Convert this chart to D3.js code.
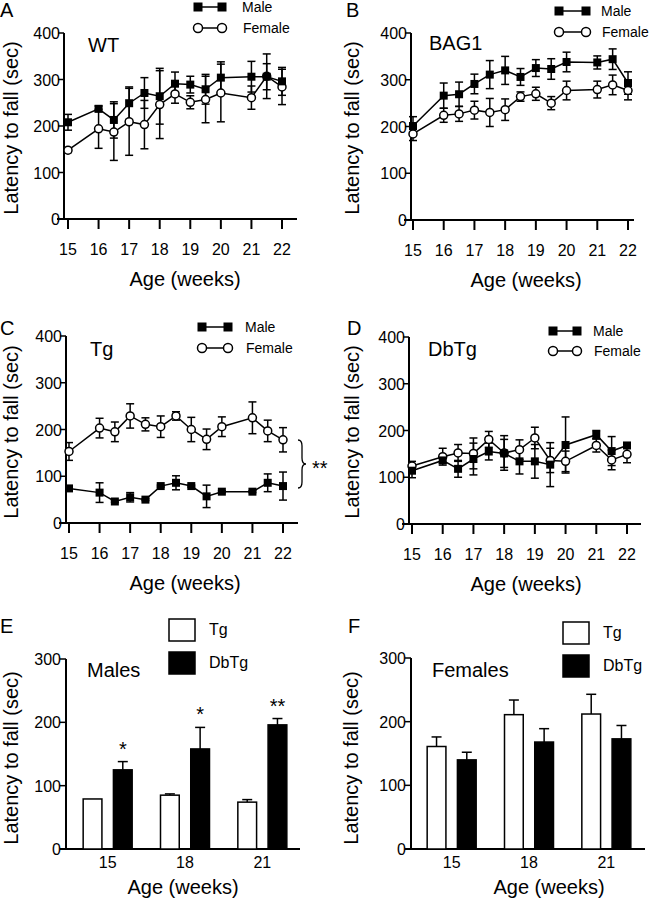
<!DOCTYPE html>
<html><head><meta charset="utf-8">
<script src="https://cdn.jsdelivr.net/npm/d3@7"></script>
<style>body{margin:0;background:#fff}svg{display:block}text{font-family:"Liberation Sans",Arial,sans-serif;fill:#000}</style>
</head><body>
<script>
// ---- data ----
const weeks = [15,16,16.5,17,17.5,18,18.5,19,19.5,20,21,21.5,22];
const weekTicks = [15,16,17,18,19,20,21,22];
const yTicksLine = [0,100,200,300,400];

const wtMale      = [208,237,213,249,271,264,291,289,279,304,306,306,296];
const wtMaleErr   = [17,6,39,35,33,60,25,18,32,34,33,28,30];
const wtFemale    = [148,194,187,209,203,246,269,251,257,271,261,307,284];
const wtFemaleErr = [5,42,61,72,52,73,20,14,50,62,25,48,38];

const bagMale      = [201,266,269,291,311,320,306,325,323,338,337,344,293];
const bagMaleErr   = [20,27,26,21,30,30,18,18,22,21,14,22,24];
const bagFemale    = [184,224,227,235,230,236,264,270,250,277,279,289,277];
const bagFemaleErr = [14,15,16,19,30,23,10,14,14,20,18,21,20];

const tgMale      = [74,65,46,55,50,79,86,79,57,67,67,86,79];
const tgMaleErr   = [2,21,2,10,2,2,15,2,24,2,2,19,30];
const tgFemale    = [153,203,195,229,211,206,229,200,179,206,225,197,178];
const tgFemaleErr = [19,21,21,26,14,23,9,26,22,21,34,23,26];

const dbMale      = [114,136,118,139,155,151,134,134,127,169,191,156,168];
const dbMaleErr   = [15,6,18,34,18,30,27,36,47,60,9,31,4];
const dbFemale    = [124,144,152,151,181,152,159,184,136,134,168,137,149];
const dbFemaleErr = [10,18,18,33,17,37,21,23,26,22,14,21,18];

const barAges = ["15","18","21"];
const barGroups = ["Tg","DbTg"];
const yTicksBar = [0,100,200,300];
const maleTg      = [79,85,74];
const maleTgErr   = [0,2,4];
const maleDb      = [125,158,196];
const maleDbErr   = [13,34,10];
const maleStars   = ["*","*","**"];
const femaleTg    = [161,211,212];
const femaleTgErr = [15,23,31];
const femaleDb    = [140,168,173];
const femaleDbErr = [12,21,21];

// ---- drawing ----
const svg = d3.select("body").append("svg").attr("width",652).attr("height",900);

function txt(g, x, y, s, size, anchor){
  return g.append("text").attr("x",x).attr("y",y).attr("font-size",size)
    .attr("text-anchor",anchor||"start").text(s);
}

function linePanel(cfg){
  const g = svg.append("g");
  const x = d3.scaleLinear().domain([15,22]).range([cfg.x15,cfg.x22]);
  const y = d3.scaleLinear().domain([0,400]).range([cfg.axY,cfg.yTop]);
  g.append("line").attr("x1",cfg.axX).attr("x2",cfg.axX).attr("y1",y(400)).attr("y2",cfg.axY)
    .attr("stroke","#000").attr("stroke-width",2);
  g.append("line").attr("x1",cfg.axX-7).attr("x2",cfg.xEnd).attr("y1",cfg.axY).attr("y2",cfg.axY)
    .attr("stroke","#000").attr("stroke-width",2);
  yTicksLine.forEach(t=>{
    if(t>0) g.append("line").attr("x1",cfg.axX-6).attr("x2",cfg.axX).attr("y1",y(t)).attr("y2",y(t))
      .attr("stroke","#000").attr("stroke-width",1.5);
    txt(g,cfg.axX-4,y(t)+6,String(t),16,"end");
  });
  weekTicks.forEach(t=>{
    g.append("line").attr("x1",x(t)).attr("x2",x(t)).attr("y1",cfg.axY).attr("y2",cfg.axY+10)
      .attr("stroke","#000").attr("stroke-width",2);
    txt(g,x(t),cfg.axY+36,String(t),16,"middle");
  });
  txt(g,cfg.titleX,cfg.axY+67,"Age (weeks)",20,"middle");
  g.append("text").attr("transform",`translate(${cfg.ytX},${cfg.ytY}) rotate(-90)`)
    .attr("font-size",20).attr("text-anchor","middle").text("Latency to fall (sec)");
  txt(g,cfg.letterX,cfg.letterY,cfg.letter,20);
  txt(g,cfg.labelX,cfg.labelY,cfg.label,20);

  const series = [
    {v:cfg.female, e:cfg.femaleErr, sym:"circle"},
    {v:cfg.male, e:cfg.maleErr, sym:"square"}
  ];
  const line = d3.line().x((d,i)=>x(weeks[i])).y(d=>y(d));
  series.forEach(s=>{
    const eb = g.append("g");
    s.v.forEach((v,i)=>{
      const cx = x(weeks[i]);
      eb.append("line").attr("x1",cx).attr("x2",cx).attr("y1",y(v-s.e[i])).attr("y2",y(v+s.e[i]))
        .attr("stroke","#000").attr("stroke-width",1.5);
      [v-s.e[i], v+s.e[i]].forEach(w=>eb.append("line").attr("x1",cx-4).attr("x2",cx+4)
        .attr("y1",y(w)).attr("y2",y(w)).attr("stroke","#000").attr("stroke-width",1.5));
    });
  });
  series.forEach(s=>{
    g.append("path").attr("d",line(s.v)).attr("fill","none").attr("stroke","#000").attr("stroke-width",1.5);
  });
  series.forEach(s=>{
    s.v.forEach((v,i)=>{
      const cx = x(weeks[i]), cy = y(v);
      if(s.sym==="square") g.append("rect").attr("x",cx-4).attr("y",cy-4).attr("width",8).attr("height",8).attr("fill","#000");
      else g.append("circle").attr("cx",cx).attr("cy",cy).attr("r",4).attr("fill","#fff").attr("stroke","#000").attr("stroke-width",1.5);
    });
  });
  const L = cfg.leg;
  g.append("line").attr("x1",L.x1).attr("x2",L.x2).attr("y1",L.yM).attr("y2",L.yM).attr("stroke","#000").attr("stroke-width",1.5);
  [L.x1,L.x2].forEach(px=>g.append("rect").attr("x",px-4.5).attr("y",L.yM-4.5).attr("width",9).attr("height",9).attr("fill","#000"));
  g.append("line").attr("x1",L.x1).attr("x2",L.x2).attr("y1",L.yF).attr("y2",L.yF).attr("stroke","#000").attr("stroke-width",1.5);
  [L.x1,L.x2].forEach(px=>g.append("circle").attr("cx",px).attr("cy",L.yF).attr("r",4.5).attr("fill","#fff").attr("stroke","#000").attr("stroke-width",1.5));
  txt(g,L.tx,L.yM+5,"Male",14);
  txt(g,L.tx+1,L.yF+5,"Female",14);
  return {g,x,y};
}

linePanel({x15:68,x22:282,axX:64,axY:219,yTop:33,xEnd:297,titleX:185,ytX:18,ytY:128,
  letter:"A",letterX:0,letterY:17,label:"WT",labelX:88,labelY:52,
  male:wtMale,maleErr:wtMaleErr,female:wtFemale,femaleErr:wtFemaleErr,
  leg:{x1:198,x2:222,yM:7,yF:28,tx:242}});
linePanel({x15:413,x22:628,axX:411,axY:220,yTop:33,xEnd:634,titleX:526,ytX:359,ytY:128,
  letter:"B",letterX:346,letterY:17,label:"BAG1",labelX:429,labelY:50,
  male:bagMale,maleErr:bagMaleErr,female:bagFemale,femaleErr:bagFemaleErr,
  leg:{x1:559,x2:586,yM:11,yF:32,tx:601}});
const pc = linePanel({x15:69,x22:283,axX:66,axY:523,yTop:336,xEnd:298,titleX:185,ytX:18,ytY:432,
  letter:"C",letterX:0,letterY:335,label:"Tg",labelX:90,labelY:356,
  male:tgMale,maleErr:tgMaleErr,female:tgFemale,femaleErr:tgFemaleErr,
  leg:{x1:202,x2:228,yM:327,yF:348,tx:245}});
linePanel({x15:412,x22:627,axX:409,axY:524,yTop:337,xEnd:641,titleX:526,ytX:359,ytY:432,
  letter:"D",letterX:347,letterY:335,label:"DbTg",labelX:428,labelY:356,
  male:dbMale,maleErr:dbMaleErr,female:dbFemale,femaleErr:dbFemaleErr,
  leg:{x1:553,x2:577,yM:331,yF:351,tx:593}});

pc.g.append("path").attr("d","M298,440 Q302,440 302,446 L302,458 Q302,464 306,464 Q302,464 302,470 L302,482 Q302,488 298,488")
  .attr("fill","none").attr("stroke","#000").attr("stroke-width",1.3);
txt(pc.g,312,475,"**",20);

function barPanel(cfg){
  const g = svg.append("g");
  const x0 = d3.scaleBand().domain(barAges).range([cfg.bx0,cfg.bx1]);
  const x1 = d3.scaleBand().domain(barGroups).range([-24.5,24.5]).paddingInner(0.38);
  const y = d3.scaleLinear().domain([0,300]).range([cfg.axY,cfg.yTop]);
  g.append("line").attr("x1",cfg.axX).attr("x2",cfg.axX).attr("y1",y(300)).attr("y2",cfg.axY).attr("stroke","#000").attr("stroke-width",2);
  g.append("line").attr("x1",cfg.axX-6).attr("x2",cfg.xEnd).attr("y1",cfg.axY).attr("y2",cfg.axY).attr("stroke","#000").attr("stroke-width",2);
  yTicksBar.forEach(t=>{
    if(t>0) g.append("line").attr("x1",cfg.axX-6).attr("x2",cfg.axX).attr("y1",y(t)).attr("y2",y(t)).attr("stroke","#000").attr("stroke-width",1.5);
    txt(g,cfg.axX-5,y(t)+6,String(t),16,"end");
  });
  barAges.forEach(a=>txt(g,x0(a)+x0.bandwidth()/2,cfg.axY+19,a,16,"middle"));
  txt(g,cfg.titleX,cfg.axY+45,"Age (weeks)",20,"middle");
  g.append("text").attr("transform",`translate(${cfg.ytX},${cfg.ytY}) rotate(-90)`)
    .attr("font-size",20).attr("text-anchor","middle").text("Latency to fall (sec)");
  txt(g,cfg.letterX,cfg.letterY,cfg.letter,20);
  txt(g,cfg.labelX,cfg.labelY,cfg.label,20);
  const sets = [{grp:"Tg",v:cfg.tg,e:cfg.tgErr,fill:"#fff"},{grp:"DbTg",v:cfg.db,e:cfg.dbErr,fill:"#000"}];
  sets.forEach(s=>{
    s.v.forEach((v,i)=>{
      const a = barAges[i];
      const bx = x0(a)+x0.bandwidth()/2 + x1(s.grp), bw = x1.bandwidth(), cx = bx+bw/2;
      if(s.e[i]>0){
        g.append("line").attr("x1",cx).attr("x2",cx).attr("y1",y(v)).attr("y2",y(v+s.e[i])).attr("stroke","#000").attr("stroke-width",1.5);
        g.append("line").attr("x1",cx-5).attr("x2",cx+5).attr("y1",y(v+s.e[i])).attr("y2",y(v+s.e[i])).attr("stroke","#000").attr("stroke-width",1.5);
      }
      g.append("rect").attr("x",bx).attr("y",y(v)).attr("width",bw).attr("height",cfg.axY-y(v))
        .attr("fill",s.fill).attr("stroke","#000").attr("stroke-width",1.5);
      if(s.grp==="DbTg" && cfg.stars) txt(g,cx,y(v+s.e[i])-6,cfg.stars[i],20,"middle");
    });
  });
  const L = cfg.leg;
  g.append("rect").attr("x",L.x).attr("y",L.y1).attr("width",26).attr("height",22).attr("fill","#fff").attr("stroke","#000").attr("stroke-width",1.5);
  g.append("rect").attr("x",L.x).attr("y",L.y2).attr("width",26).attr("height",22).attr("fill","#000").attr("stroke","#000").attr("stroke-width",1.5);
  txt(g,L.x+40,L.y1+16,"Tg",16);
  txt(g,L.x+40,L.y2+16,"DbTg",16);
}

barPanel({bx0:69,bx1:301,axX:66,axY:849,yTop:659,xEnd:300,titleX:183,ytX:18,ytY:758,
  letter:"E",letterX:0,letterY:633,label:"Males",labelX:87,labelY:677,
  tg:maleTg,tgErr:maleTgErr,db:maleDb,dbErr:maleDbErr,stars:maleStars,
  leg:{x:169,y1:619,y2:652}});
barPanel({bx0:413,bx1:645,axX:411,axY:849,yTop:658,xEnd:645,titleX:549,ytX:358,ytY:758,
  letter:"F",letterX:348,letterY:633,label:"Females",labelX:432,labelY:677,
  tg:femaleTg,tgErr:femaleTgErr,db:femaleDb,dbErr:femaleDbErr,stars:null,
  leg:{x:563,y1:622,y2:655}});
</script>
</body></html>
